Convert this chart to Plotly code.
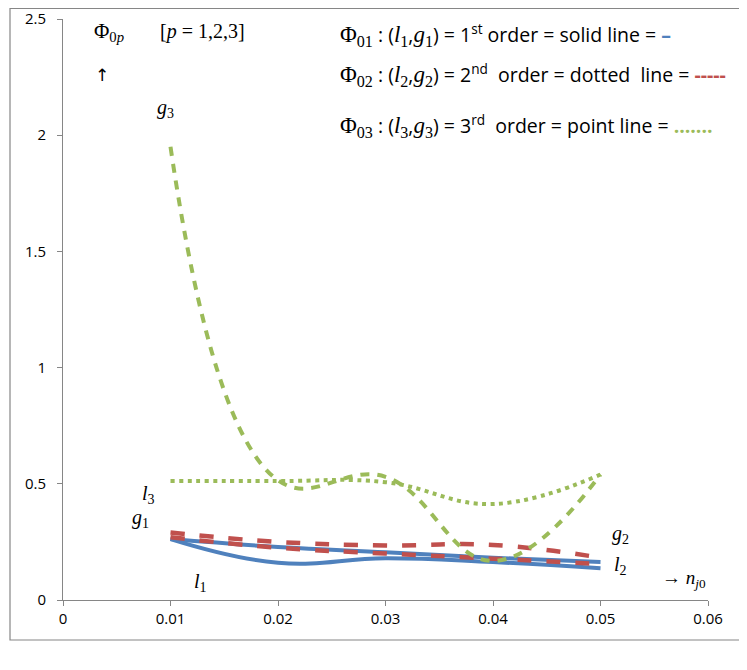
import plotly.graph_objects as go

# ---- data ----
x_vals = [0.01, 0.02, 0.03, 0.04, 0.05]
l1 = [0.262, 0.160, 0.180, 0.163, 0.137]
g1 = [0.262, 0.228, 0.205, 0.182, 0.163]
l2 = [0.270, 0.225, 0.200, 0.178, 0.155]
g2 = [0.290, 0.250, 0.235, 0.237, 0.182]
l3 = [0.512, 0.512, 0.507, 0.413, 0.540]
g3 = [1.950, 0.515, 0.530, 0.168, 0.540]

x_ticks = [0, 0.01, 0.02, 0.03, 0.04, 0.05, 0.06]
x_tick_labels = ["0", "0.01", "0.02", "0.03", "0.04", "0.05", "0.06"]
y_ticks = [0, 0.5, 1, 1.5, 2, 2.5]
y_tick_labels = ["0", "0.5", "1", "1.5", "2", "2.5"]

BLUE = "#4F81BD"
RED = "#C0504D"
GREEN = "#9BBB59"

OFF = 8  # page body margin
W, H = 747 - OFF, 670 - OFF
L, T = 63 - OFF, 19 - OFF
R = W - (708 - OFF)
B = H - (600 - OFF)
PW, PH = W - L - R, H - T - B


def px(x, y):
    """window pixel -> paper coords"""
    x -= OFF
    y -= OFF
    return (x - L) / PW, (H - B - y) / PH


fig = go.Figure()

series = [
    (l1, BLUE, "solid", 4, "l1"),
    (g1, BLUE, "solid", 4, "g1"),
    (l2, RED, "14px,15px", 4.5, "l2"),
    (g2, RED, "14px,15px", 4.5, "g2"),
    (l3, GREEN, "4px,4.5px", 4, "l3"),
    (g3, GREEN, "9px,8px", 4, "g3"),
]
for ys, col, dash, wd, name in series:
    fig.add_trace(go.Scatter(
        x=x_vals, y=ys, mode="lines", name=name,
        line=dict(color=col, width=wd, dash=dash, shape="spline", smoothing=1.2),
        showlegend=False, hoverinfo="skip",
    ))

SERIF = "Liberation Serif, DejaVu Serif, serif"
SANS = "Open Sans, Lato, Noto Sans, sans-serif"

ann = []


def add(text, x, y, size=18, family=SERIF, xanchor="left", color="#000"):
    xp, yp = px(x, y)
    ann.append(dict(text=text, x=xp, y=yp, xref="paper", yref="paper",
                    xanchor=xanchor, yanchor="middle", showarrow=False,
                    font=dict(family=family, size=size, color=color)))


def sp(t, size=23, fam=SERIF):
    return f"<span style='font-family:{fam};font-size:{size}px'>{t}</span>"


add("Φ<sub>0<i>p</i></sub>", 92, 32, size=21)
add("[<i>p</i> = 1,2,3]", 158, 32, size=20)
add("↑", 93, 75, size=17, family="DejaVu Sans")
add("<i>g</i><sub>3</sub>", 155, 109, size=20)

leg = [
    ("01", "1", "1", "st", " order = solid line = ", "<span style='color:%s'><b>–</b></span>" % BLUE, 34),
    ("02", "2", "2", "nd", "  order = dotted  line = ", "<span style='color:%s'><b>-----</b></span>" % RED, 75),
    ("03", "3", "3", "rd", "  order = point line = ", "<span style='color:%s'><b>.......</b></span>" % GREEN, 125),
]
for sub, li, gi, ordn, rest, mark, yy in leg:
    txt = (sp("Φ<sub>%s</sub>" % sub) + " : (" + sp("<i>l</i><sub>%s</sub>" % li) + ","
           + sp("<i>g</i><sub>%s</sub>" % gi) + ") = %s<sup>%s</sup>" % (li, ordn) + rest + mark)
    add(txt, 338, yy, size=19.5, family=SANS)

add("<i>l</i><sub>3</sub>", 140, 494, size=20)
add("<i>g</i><sub>1</sub>", 130, 518, size=20)
add("<i>l</i><sub>1</sub>", 192, 582, size=20)
add("<i>g</i><sub>2</sub>", 610, 534, size=20)
add("<i>l</i><sub>2</sub>", 612, 565, size=20)
add("→ <i>n</i><sub><i>j</i>0</sub>", 660, 579, size=19)

fig.update_layout(
    width=W, height=H,
    margin=dict(l=L, r=R, t=T, b=B, autoexpand=False),
    paper_bgcolor="white", plot_bgcolor="white",
    annotations=ann,
    xaxis=dict(range=[0, 0.06], tickvals=x_ticks, ticktext=x_tick_labels,
               showgrid=False, zeroline=False, showline=True, linecolor="#868686",
               linewidth=1, ticks="outside", ticklen=5, tickcolor="#868686",
               ticklabelstandoff=0, automargin=False,
               tickfont=dict(family=SANS, size=15, color="#000")),
    yaxis=dict(range=[0, 2.5], tickvals=y_ticks, ticktext=y_tick_labels,
               showgrid=False, zeroline=False, showline=True, linecolor="#868686",
               linewidth=1, ticks="outside", ticklen=5, tickcolor="#868686",
               ticklabelstandoff=8, automargin=False,
               tickfont=dict(family=SANS, size=15, color="#000")),
)

x0, _ = px(10, 5)
x1, y0 = px(745, 640)
y1 = 1 + (T - 0.5) / PH
fig.add_shape(type="rect", xref="paper", yref="paper", x0=x0, x1=x1, y0=y0, y1=y1,
              line=dict(color="#868686", width=1.2), fillcolor="rgba(0,0,0,0)", layer="below")

fig.write_html("out.html")
